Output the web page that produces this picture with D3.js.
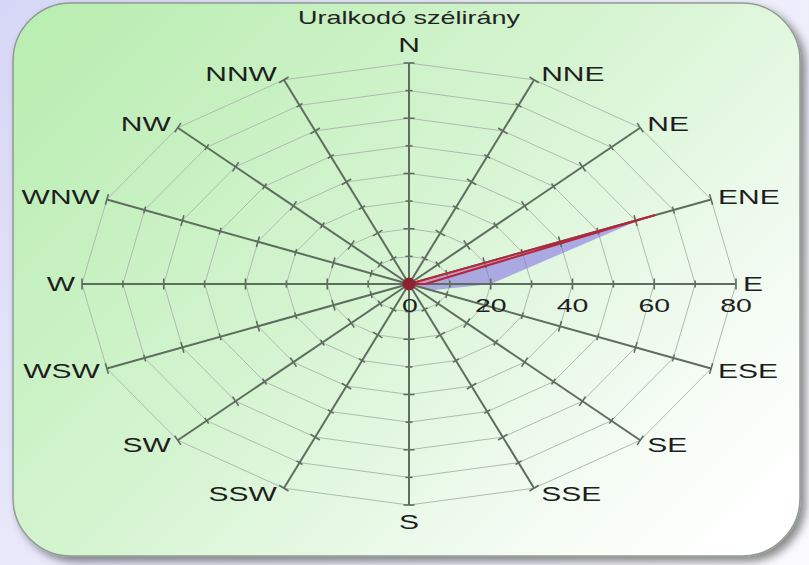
<!DOCTYPE html>
<html><head><meta charset="utf-8">
<script src="https://cdn.jsdelivr.net/npm/d3@7"></script>
<style>
html,body{margin:0;padding:0;width:809px;height:565px;overflow:hidden;background:linear-gradient(135deg,#d6d6f6 0%,#e8e8fa 40%,#fbfbff 100%);}
svg{display:block;font-family:"Liberation Sans",Arial,sans-serif;}
</style></head>
<body>
<svg id="c" width="809" height="565"></svg>
<script>
const title = "Uralkodó szélirány";
const directions = ["N","NNE","NE","ENE","E","ESE","SE","SSE","S","SSW","SW","WSW","W","WNW","NW","NNW"];
const redSeries  = [0,0,0,65,4,0,0,0,0,0,0,0,0,0,0,0];
const blueSeries = [0,0,0,62,20,6,0,0,0,0,0,0,0,0,0,0];
const radialTicks = [0,20,40,60,80];
const gridSteps = [10,20,30,40,50,60,70,80];

const svg = d3.select("#c");
const SX = 1.5; // horizontal stretch of the text
const defs = svg.append("defs");
const g1 = defs.append("linearGradient").attr("id","bg").attr("x1","0").attr("y1","0.15").attr("x2","1").attr("y2","0.85");
g1.append("stop").attr("offset","0").attr("stop-color","#bbeeb3");
g1.append("stop").attr("offset","0.45").attr("stop-color","#d5f4d1");
g1.append("stop").attr("offset","0.8").attr("stop-color","#f2fbf1");
g1.append("stop").attr("offset","1").attr("stop-color","#ffffff");
const f = defs.append("filter").attr("id","sh").attr("x","-5%").attr("y","-5%").attr("width","115%").attr("height","115%");
f.append("feDropShadow").attr("dx",5).attr("dy",5).attr("stdDeviation",4).attr("flood-color","#000").attr("flood-opacity",0.45);

svg.append("rect").attr("x",13).attr("y",3).attr("width",787).attr("height",553)
  .attr("rx",58).attr("ry",58).attr("fill","url(#bg)").attr("stroke","#8f9c8f").attr("stroke-width",1.5)
  .attr("filter","url(#sh)");

const cx = 409, cy = 284, rx = 327, ry = 221;
const r = d3.scaleLinear().domain([0,80]).range([0,1]);
const ang = d3.scaleLinear().domain([0,directions.length]).range([0,2*Math.PI]);
function pt(i,v){const a=ang(i);return [cx+rx*r(v)*Math.sin(a), cy-ry*r(v)*Math.cos(a)];}
function label(parent,x,y,txt,size,anchor){
  return parent.append("text").attr("transform",`translate(${x},${y}) scale(${SX},1)`)
    .attr("dy","0.36em").attr("text-anchor",anchor).attr("font-size",size).attr("fill","#1e1e1e").text(txt);
}

label(svg,cx,18,title,18,"middle").attr("fill","#222");

// grid polygons
const gridG = svg.append("g");
gridSteps.forEach(s=>{
  gridG.append("path").attr("d", d3.line()(directions.map((d,i)=>pt(i,s))) + "Z")
    .attr("fill","none").attr("stroke","#afbbaf").attr("stroke-width",1);
});

const areaLine = d3.line();
svg.append("path").attr("d", areaLine(blueSeries.map((v,i)=>pt(i,v)))+"Z")
  .attr("fill","rgba(125,105,230,0.55)").attr("stroke","none");

// axes
const axG = svg.append("g");
directions.forEach((d,i)=>{
  const e = pt(i,80);
  axG.append("line").attr("x1",cx).attr("y1",cy).attr("x2",e[0]).attr("y2",e[1])
    .attr("stroke","#5f6d5f").attr("stroke-width",2);
  const a = ang(i);
  let dx = rx*Math.sin(a), dy = -ry*Math.cos(a);
  const L = Math.hypot(dx,dy); dx/=L; dy/=L;
  const px=-dy, py=dx;
  gridSteps.forEach(s=>{
    const p = pt(i,s);
    const h = (s%20===0)?5.5:3.5;
    axG.append("line").attr("x1",p[0]-px*h).attr("y1",p[1]-py*h).attr("x2",p[0]+px*h).attr("y2",p[1]+py*h)
      .attr("stroke","#5f6d5f").attr("stroke-width",1.6);
  });
  const s = Math.sin(a), c = Math.cos(a);
  let anchor="middle", lx=e[0], ly=e[1];
  if (s>0.1){anchor="start"; lx+=7; ly+=-6*c;}
  else if (s<-0.1){anchor="end"; lx-=7; ly+=-6*c;}
  else {ly += c>0 ? -18 : 17;}
  label(axG,lx,ly,d,20,anchor);
});

// red series
svg.append("path").attr("d", areaLine(redSeries.map((v,i)=>pt(i,v)))+"Z")
  .attr("fill","rgba(240,140,165,0.45)").attr("stroke","#b0283c").attr("stroke-width",2).attr("stroke-linejoin","round");
svg.append("circle").attr("cx",cx).attr("cy",cy).attr("r",6.5).attr("fill","#8e2233");

// radial tick labels
radialTicks.forEach(t=>{
  const p = pt(4,t);
  label(svg,p[0]+(t===0?1:0),cy+21,String(t),19,"middle");
});
</script>
</body></html>
